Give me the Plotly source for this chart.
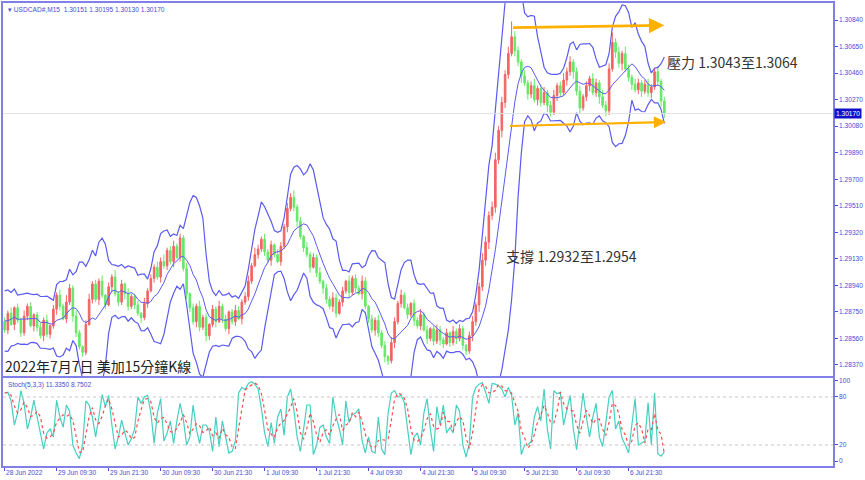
import plotly.graph_objects as go
import pandas as pd

# ---------------- data ----------------
lead_closes = [1.2872, 1.2858, 1.2866, 1.2881, 1.2861, 1.2870, 1.2878]   # bars just left of the view (indicator warm-up)
first_open = 1.2868
closes = [
    1.2862, 1.2874, 1.2866, 1.2878, 1.2869, 1.2860, 1.2872, 1.2879, 1.2865, 1.2873,
    1.2864, 1.2858, 1.2869, 1.2859, 1.2865, 1.2877, 1.2887, 1.2879, 1.2870, 1.2882,
    1.2892, 1.2872, 1.2860, 1.2850, 1.2846, 1.2866, 1.2884, 1.2895, 1.2884, 1.2897,
    1.2887, 1.2880, 1.2893, 1.2900, 1.2888, 1.2882, 1.2895, 1.2888, 1.2879, 1.2886,
    1.2880, 1.2874, 1.2871, 1.2881, 1.2890, 1.2899, 1.2907, 1.2900, 1.2911, 1.2908,
    1.2919, 1.2911, 1.2922, 1.2914, 1.2928, 1.2906, 1.2888, 1.2878, 1.2868, 1.2879,
    1.2864, 1.2871, 1.2858, 1.2866, 1.2877, 1.2868, 1.2879, 1.2870, 1.2863, 1.2875,
    1.2868, 1.2876, 1.2870, 1.2882, 1.2886, 1.2897, 1.2908, 1.2916, 1.2920, 1.2927,
    1.2918, 1.2912, 1.2923, 1.2916, 1.2911, 1.2922, 1.2936, 1.2949, 1.2957, 1.2950,
    1.2940, 1.2929, 1.2921, 1.2916, 1.2907, 1.2914, 1.2903, 1.2897, 1.2892, 1.2884,
    1.2879, 1.2885, 1.2874, 1.2882, 1.2890, 1.2897, 1.2889, 1.2899, 1.2892, 1.2888,
    1.2897, 1.2879, 1.2870, 1.2862, 1.2869, 1.2860, 1.2851, 1.2843, 1.2840, 1.2853,
    1.2868, 1.2881, 1.2887, 1.2878, 1.2873, 1.2881, 1.2869, 1.2865, 1.2873, 1.2862,
    1.2856, 1.2863, 1.2854, 1.2862, 1.2855, 1.2852, 1.2860, 1.2853, 1.2861, 1.2856,
    1.2863, 1.2851, 1.2847, 1.2858, 1.2868, 1.2880, 1.2893, 1.2912, 1.2925, 1.2944,
    1.2950, 1.2984, 1.3005, 1.3025, 1.3045, 1.3060, 1.3072, 1.3062, 1.3054, 1.3044,
    1.3039, 1.3031, 1.3037, 1.3027, 1.3035, 1.3025, 1.3032, 1.3023, 1.3018, 1.3030,
    1.3037, 1.3032, 1.3041, 1.3047, 1.3054, 1.3047, 1.3033, 1.3021, 1.3029, 1.3037,
    1.3042, 1.3032, 1.3039, 1.3029, 1.3023, 1.3019, 1.3049, 1.3068, 1.3061, 1.3053,
    1.3060, 1.3049, 1.3043, 1.3038, 1.3034, 1.3039, 1.3033, 1.3038, 1.3032, 1.3036,
    1.3047, 1.3040, 1.3026, 1.3017,
]
up_wick_pips = [
    3, 2, 4, 1, 3, 2, 4, 2, 3, 1, 2, 3, 2, 4, 1, 3, 2, 4, 2, 5,
    3, 2, 4, 2, 1, 3, 4, 2, 3, 2, 4, 1, 3, 2, 5, 2, 3, 1, 4, 2,
    2, 3, 1, 4, 2, 3, 2, 4, 3, 5, 2, 3, 4, 2, 3, 2, 4, 1, 3, 2,
    4, 2, 3, 1, 3, 2, 4, 2, 3, 1, 2, 4, 3, 2, 3, 4, 2, 5, 3, 2,
    4, 2, 3, 1, 4, 3, 2, 4, 3, 5, 2, 3, 1, 4, 2, 3, 2, 4, 1, 3,
    2, 4, 3, 2, 3, 1, 4, 2, 3, 2, 4, 3, 1, 3, 2, 4, 2, 3, 1, 4,
    3, 2, 4, 2, 3, 1, 3, 2, 4, 2, 3, 1, 2, 4, 3, 2, 3, 1, 4, 2,
    3, 2, 1, 3, 4, 2, 3, 5, 4, 3, 4, 5, 3, 4, 3, 5, 11, 4, 3, 2,
    4, 2, 3, 5, 2, 3, 4, 2, 3, 4, 2, 3, 5, 3, 4, 2, 3, 4, 2, 3,
    2, 4, 3, 2, 5, 3, 4, 7, 3, 4, 2, 5, 3, 2, 4, 3, 2, 3, 4, 2,
    3, 4, 2, 3,
]
dn_wick_pips = [
    2, 3, 1, 4, 2, 3, 2, 3, 1, 4, 3, 2, 4, 2, 3, 2, 4, 3, 1, 3,
    2, 4, 3, 2, 3, 2, 1, 3, 2, 4, 2, 3, 1, 4, 2, 3, 2, 4, 3, 2,
    3, 2, 4, 2, 3, 1, 3, 2, 4, 2, 3, 2, 4, 1, 3, 2, 4, 3, 2, 4,
    3, 2, 4, 3, 2, 4, 1, 3, 2, 4, 2, 3, 1, 4, 2, 3, 2, 1, 3, 2,
    3, 2, 4, 2, 1, 3, 2, 4, 2, 3, 4, 2, 3, 2, 4, 1, 3, 2, 4, 3,
    2, 4, 3, 1, 3, 2, 4, 2, 3, 1, 4, 2, 3, 2, 4, 3, 2, 4, 3, 2,
    4, 2, 3, 1, 3, 2, 4, 2, 3, 1, 4, 2, 3, 2, 4, 3, 1, 3, 2, 4,
    2, 3, 3, 2, 4, 3, 5, 3, 4, 5, 3, 4, 3, 5, 4, 3, 2, 4, 3, 5,
    2, 4, 3, 2, 4, 3, 2, 5, 3, 2, 4, 3, 2, 4, 3, 5, 3, 4, 2, 3,
    4, 2, 3, 5, 2, 4, 3, 2, 4, 3, 5, 2, 3, 4, 2, 3, 4, 2, 3, 4,
    2, 3, 4, 3,
]
stoch_k = [
    85, 86, 75, 45, 60, 88, 72, 40, 55, 76, 55, 35, 15, 35, 40, 30, 76, 55, 42, 70,
    62, 20, 10, 3, 20, 75, 70, 55, 30, 55, 83, 68, 82, 45, 15, 30, 51, 35, 20, 28,
    40, 80, 72, 80, 82, 60, 22, 60, 78, 25, 35, 50, 22, 50, 72, 52, 20, 30, 70, 40,
    22, 45, 45, 38, 12, 55, 18, 50, 30, 10, 12, 25, 85, 92, 89, 97, 99, 96, 90, 66,
    35, 18, 48, 22, 55, 65, 32, 80, 90, 64, 30, 12, 40, 70, 70, 8, 20, 42, 45, 30,
    22, 80, 55, 40, 20, 75, 48, 58, 60, 65, 25, 10, 30, 12, 10, 55, 15, 8, 60, 85,
    88, 80, 82, 73, 40, 8, 30, 35, 20, 60, 78, 40, 12, 68, 45, 70, 35, 42, 35, 70,
    62, 20, 5, 22, 80, 92, 96, 98, 86, 72, 97, 96, 94, 90, 80, 92, 82, 45, 60, 8,
    20, 20, 24, 55, 68, 50, 90, 40, 15, 88, 84, 86, 45, 65, 82, 40, 14, 50, 85, 55,
    30, 55, 72, 30, 18, 48, 80, 88, 40, 50, 28, 20, 10, 45, 78, 20, 22, 25, 73, 20,
    85, 9, 6, 11.34,
]
time_labels = ["28 Jun 2022", "29 Jun 09:30", "29 Jun 21:30", "30 Jun 09:30", "30 Jun 21:30",
               "1 Jul 09:30", "1 Jul 21:30", "4 Jul 09:30", "4 Jul 21:30", "5 Jul 09:30",
               "5 Jul 21:30", "6 Jul 09:30", "6 Jul 21:30"]
bars_per_label = 16
price_ticks = [1.30840, 1.30650, 1.30460, 1.30270, 1.30080, 1.29890, 1.29700, 1.29510,
               1.29320, 1.29130, 1.28940, 1.28750, 1.28560, 1.28370]
stoch_ticks = [0, 20, 80, 100]
last_price = 1.30170
resist_arrow = dict(x0=156, y0=1.30785, x1=203, y1=1.30802)
support_arrow = dict(x0=155, y0=1.30081, x1=203.5, y1=1.30110)
bb_period = 8
bb_dev = 2.8

# ---------------- derived series ----------------
n = len(closes)
idx = list(range(n))
opens = [first_open] + closes[:-1]
highs = [max(o, c) + u / 10000 for o, c, u in zip(opens, closes, up_wick_pips)]
lows = [min(o, c) - d / 10000 for o, c, d in zip(opens, closes, dn_wick_pips)]

allc = pd.Series(lead_closes + closes)
bb_mid = allc.rolling(bb_period).mean().iloc[len(lead_closes):].tolist()
bb_sd = allc.rolling(bb_period).std(ddof=0).iloc[len(lead_closes):].tolist()
bb_up = [m + bb_dev * s for m, s in zip(bb_mid, bb_sd)]
bb_lo = [m - bb_dev * s for m, s in zip(bb_mid, bb_sd)]
stoch_d = pd.Series(stoch_k).rolling(3, min_periods=1).mean().tolist()

# ---------------- style ----------------
UP = "#f26464"
DN = "#66e866"
BAND = "#5b5bf0"
AXC = "#4b4bd6"
FRAME = "#8080e8"
TXT_FONT = "Liberation Sans"
CJK = "Noto Sans CJK TC"

fig = go.Figure()
fig.add_trace(go.Candlestick(
    x=idx, open=opens, high=highs, low=lows, close=closes,
    increasing=dict(line=dict(color=UP, width=1), fillcolor=UP),
    decreasing=dict(line=dict(color=DN, width=1), fillcolor=DN),
    whiskerwidth=0, showlegend=False, hoverinfo="skip", xaxis="x", yaxis="y"))
for series, w in ((bb_up, 1.2), (bb_mid, 1.0), (bb_lo, 1.2)):
    fig.add_trace(go.Scatter(x=idx, y=series, mode="lines", line=dict(color=BAND, width=w),
                             showlegend=False, hoverinfo="skip", xaxis="x", yaxis="y"))
fig.add_trace(go.Scatter(x=idx, y=stoch_k, mode="lines", line=dict(color="#46cfc0", width=1.2),
                         showlegend=False, hoverinfo="skip", xaxis="x2", yaxis="y2"))
fig.add_trace(go.Scatter(x=idx, y=stoch_d, mode="lines", line=dict(color="#ff4a4a", width=1.2, dash="dot"),
                         showlegend=False, hoverinfo="skip", xaxis="x2", yaxis="y2"))

xr = [-0.5, 254.9]
main_dom = [0.1944, 1.0]
sto_dom = [0.0, 0.1901]

fig.update_layout(
    width=865, height=480,
    margin=dict(l=3, r=32, t=3, b=14, autoexpand=False),
    paper_bgcolor="white", plot_bgcolor="white",
    showlegend=False,
    xaxis=dict(domain=[0, 1], range=xr, anchor="y", showticklabels=False, showgrid=False,
               zeroline=False, rangeslider=dict(visible=False), showline=True, mirror=True,
               linecolor=FRAME, linewidth=1.5, ticks=""),
    yaxis=dict(domain=main_dom, range=[1.28291, 1.30962], side="right", showgrid=False,
               zeroline=False, tickvals=price_ticks, ticktext=[f"{v:.5f}" for v in price_ticks],
               ticks="outside", ticklen=3, tickcolor=AXC, showline=True, mirror=True,
               linecolor=FRAME, linewidth=1.5,
               tickfont=dict(family=TXT_FONT, size=6.6, color=AXC)),
    xaxis2=dict(domain=[0, 1], range=xr, anchor="y2", showticklabels=False, showgrid=False,
                zeroline=False, tickvals=[k * bars_per_label for k in range(len(time_labels))],
                ticks="outside", ticklen=3, tickcolor=AXC, showline=True, mirror=True,
                linecolor=FRAME, linewidth=1.5),
    yaxis2=dict(domain=sto_dom, range=[-6.25, 103.75], side="right", showgrid=False,
                zeroline=False, tickvals=stoch_ticks, ticktext=[str(v) for v in stoch_ticks],
                ticks="outside", ticklen=3, tickcolor=AXC, showline=True, mirror=True,
                linecolor=FRAME, linewidth=1.5,
                tickfont=dict(family=TXT_FONT, size=6.6, color=AXC)),
)

shapes = []
for lvl in (20, 80):
    shapes.append(dict(type="line", xref="x2", yref="y2", x0=xr[0], x1=xr[1], y0=lvl, y1=lvl,
                       line=dict(color="#c8c8c8", width=1, dash="dot")))
shapes.append(dict(type="line", xref="x", yref="y", x0=xr[0], x1=xr[1], y0=last_price, y1=last_price,
                   line=dict(color="#e2e2e2", width=1)))
fig.update_layout(shapes=shapes)

ann = []
for k, lab in enumerate(time_labels):
    ann.append(dict(x=k * bars_per_label, xref="x2", y=0, yref="paper", yanchor="top", xanchor="left",
                    yshift=-1, xshift=-1, text=lab, showarrow=False,
                    font=dict(family=TXT_FONT, size=6.6, color=AXC)))
ann.append(dict(x=1, xref="paper", y=last_price, yref="y", xanchor="left", yanchor="middle",
                xshift=1, text=f"{last_price:.5f}", showarrow=False, bgcolor="#1010c8",
                borderpad=1, font=dict(family=TXT_FONT, size=6.6, color="white")))
ann.append(dict(x=0, xref="paper", y=1, yref="paper", xanchor="left", yanchor="top", xshift=3, yshift=-1,
                text="▾ USDCAD#,M15  1.30151 1.30195 1.30130 1.30170", showarrow=False,
                font=dict(family=TXT_FONT, size=6.6, color=AXC)))
ann.append(dict(x=0, xref="paper", y=sto_dom[1], yref="paper", xanchor="left", yanchor="top", xshift=3,
                yshift=-1, text="Stoch(5,3,3) 11.3350 8.7502", showarrow=False,
                font=dict(family=TXT_FONT, size=6.6, color=AXC)))
ann.append(dict(x=0.7976, xref="paper", y=1.30539, yref="y", xanchor="left", yanchor="middle",
                text="壓力 1.3043至1.3064", showarrow=False, font=dict(family=CJK, size=14, color="#333333")))
ann.append(dict(x=0.6036, xref="paper", y=1.29150, yref="y", xanchor="left", yanchor="middle",
                text="支撐 1.2932至1.2954", showarrow=False, font=dict(family=CJK, size=14, color="#333333")))
ann.append(dict(x=0, xref="paper", y=main_dom[0], yref="paper", xanchor="left", yanchor="bottom",
                xshift=0, yshift=-2, text="2022年7月7日 美加15分鐘K線", showarrow=False,
                font=dict(family=CJK, size=14, color="#222222")))
for a, w in ((resist_arrow, 2.8), (support_arrow, 2.2)):
    ann.append(dict(x=a["x1"], y=a["y1"], xref="x", yref="y", ax=a["x0"], ay=a["y0"], axref="x", ayref="y",
                    showarrow=True, arrowhead=2, arrowsize=1.1, arrowwidth=w, arrowcolor="#ffb000", text=""))
fig.update_layout(annotations=ann)

fig.write_html("out.html", config={"displayModeBar": False},
               post_script="document.body.style.margin='0';document.body.style.padding='0';")
